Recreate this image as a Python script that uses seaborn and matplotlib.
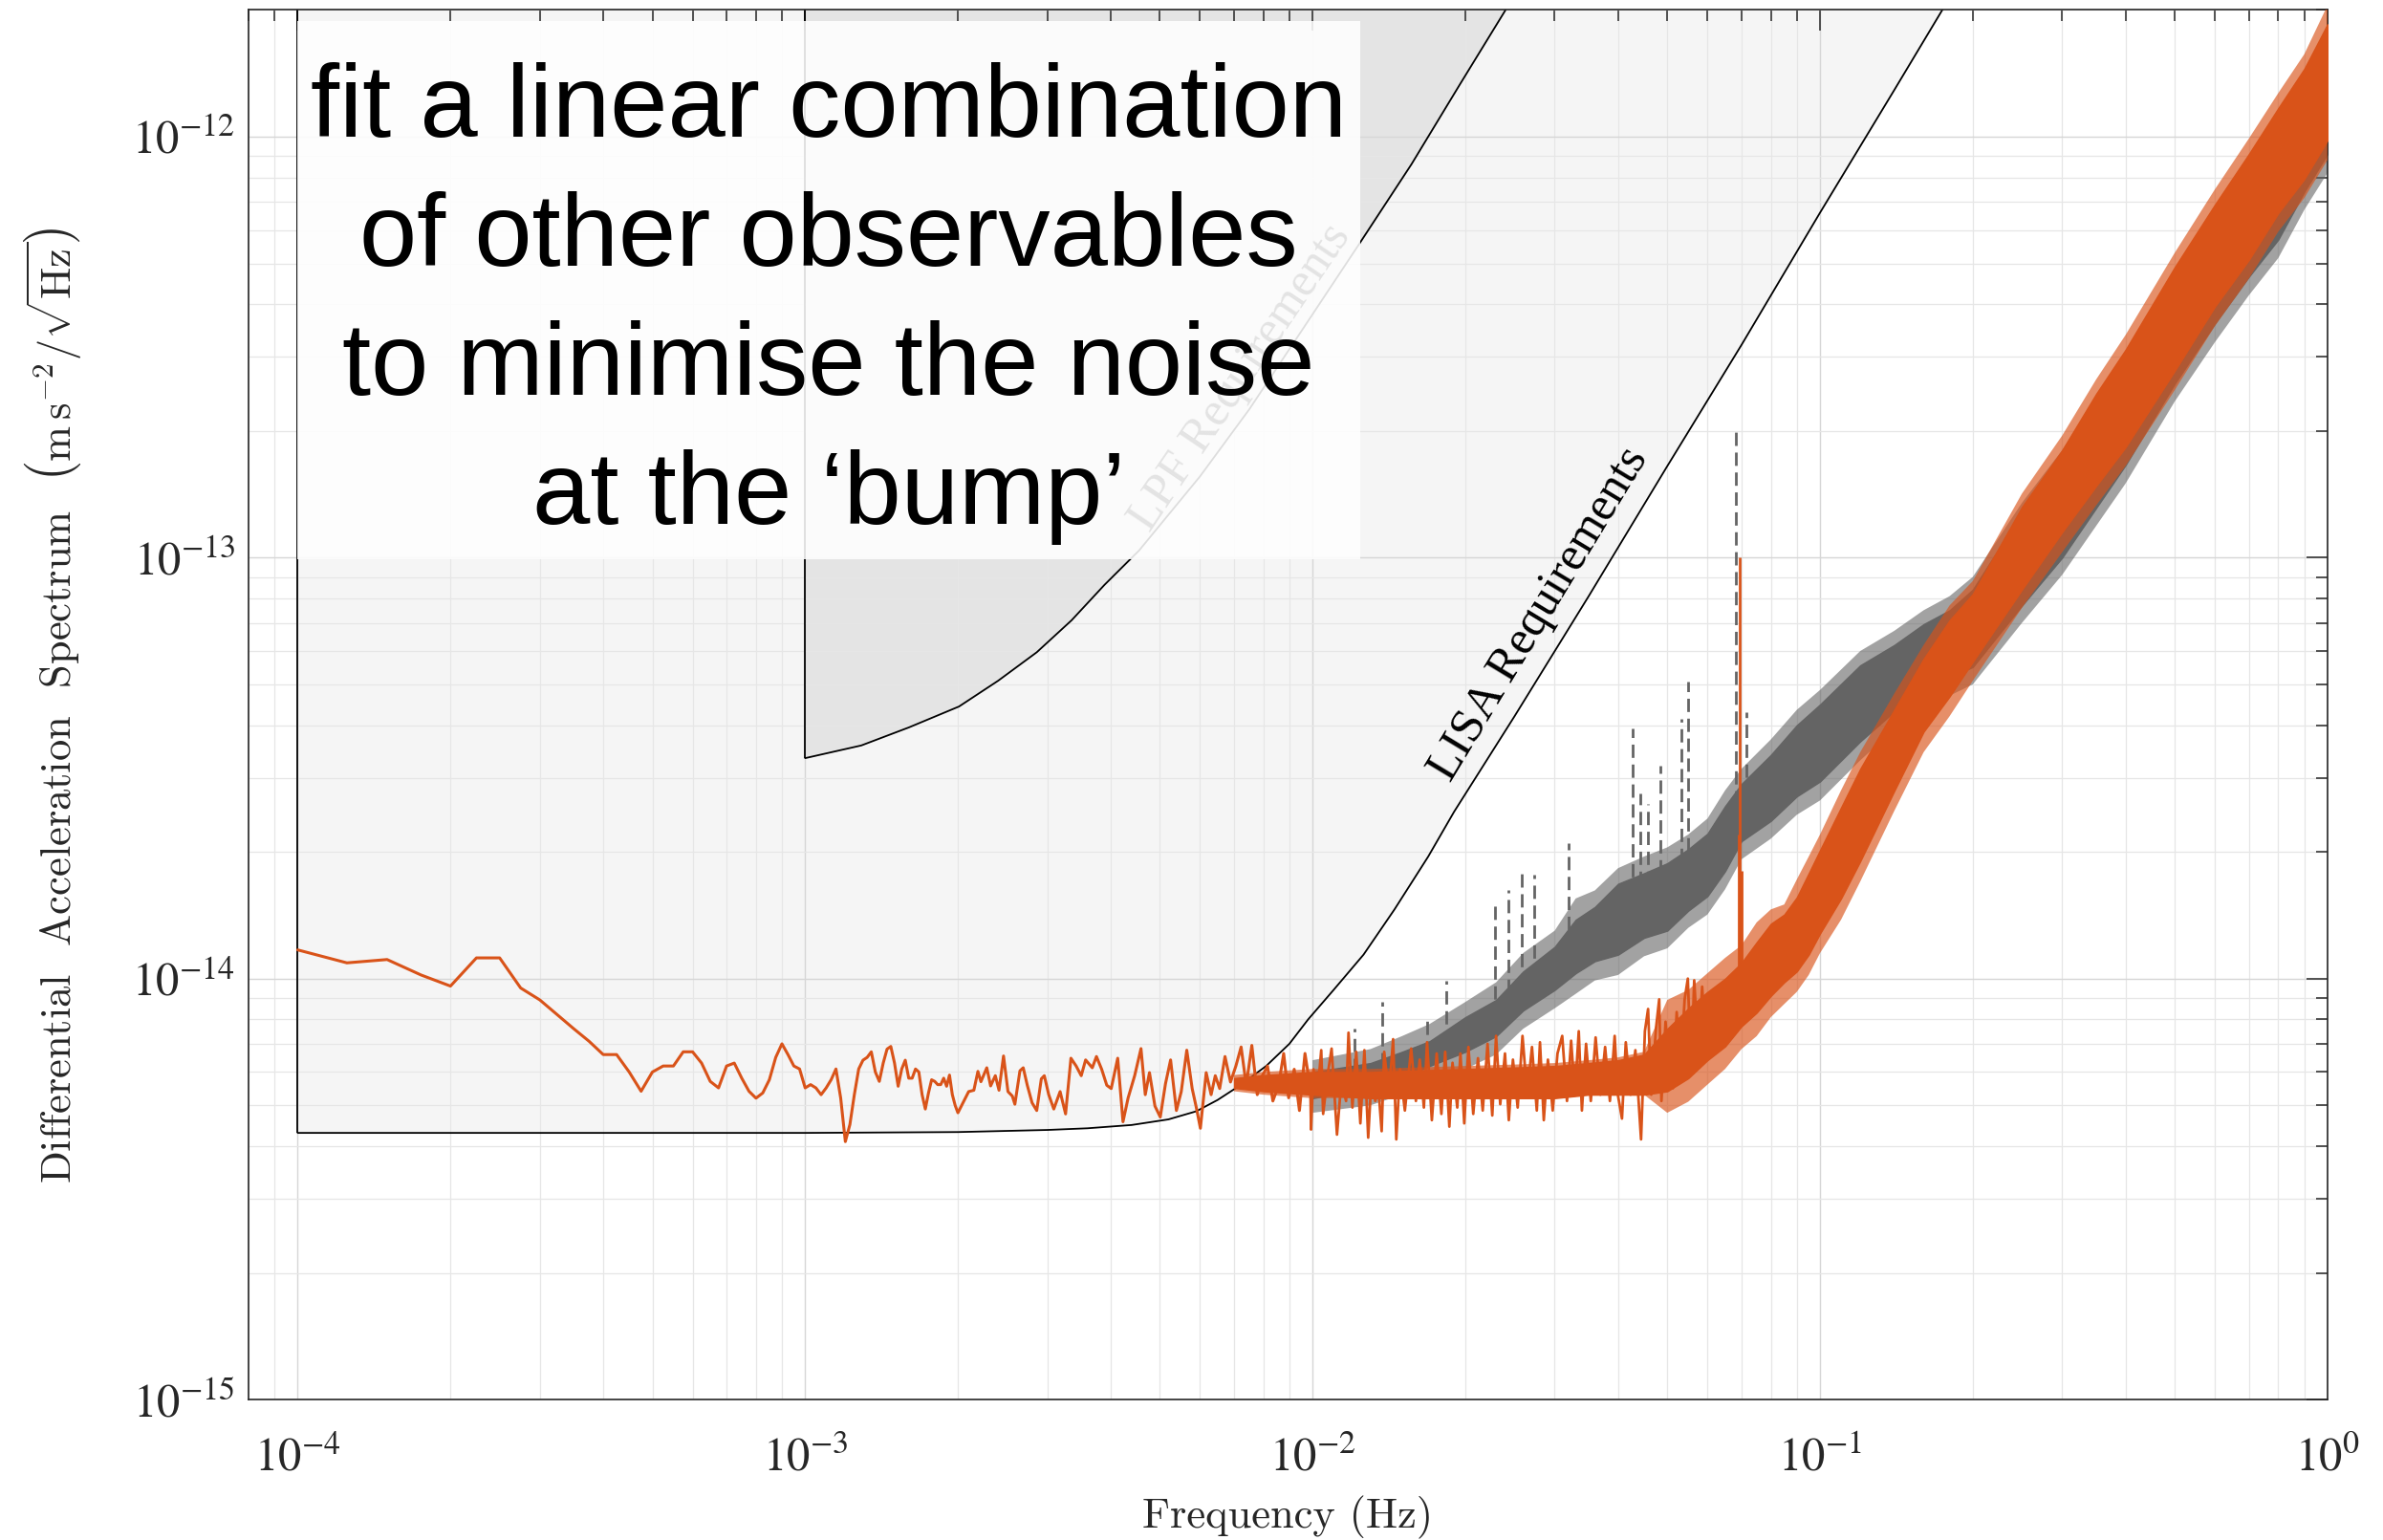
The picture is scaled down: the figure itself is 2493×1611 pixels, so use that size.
import numpy as np
import pandas as pd
import seaborn as sns
import matplotlib.pyplot as plt
from matplotlib.ticker import FixedLocator, LogLocator, NullFormatter
from matplotlib.patches import Rectangle

# ---- data (frequency in Hz, spectrum in m s^-2/sqrt(Hz)) ----
ORANGE = '#D95319'
GREY = '#646464'

# sparse low-frequency part of the orange spectrum (values in 1e-15)
orange_low_f = np.arange(1.0, 20.01, 0.25) * 1e-4
orange_low_v = np.array([
    11.7, 10.9, 11.1, 10.2, 9.6, 11.2, 11.2, 9.5, 8.9, 8.2,
    7.6, 7.1, 6.6, 6.6, 6.0, 5.4, 6.0, 6.2, 6.2, 6.7,
    6.7, 6.3, 5.7, 5.5, 6.2, 6.3, 5.8, 5.4, 5.2, 5.35,
    5.75, 6.5, 7.0, 6.6, 6.2, 6.1, 5.5, 5.6, 5.5, 5.3,
    5.5, 5.75, 6.1, 5.2, 4.1, 4.5, 5.3, 6.1, 6.4, 6.5,
    6.7, 6.0, 5.7, 6.3, 6.8, 6.9, 6.3, 5.55, 6.1, 6.4,
    5.8, 5.8, 6.1, 6.0, 5.3, 4.9, 5.35, 5.75, 5.7, 5.6,
    5.6, 5.8, 5.55, 5.9, 5.3, 5.0, 4.8]) * 1e-15

# noisy mid part of the orange spectrum (f in 1e-3, values in 1e-15)
orange_mid_f = np.array([
    2.10, 2.15, 2.19, 2.22, 2.28, 2.32, 2.37, 2.41, 2.46, 2.51,
    2.56, 2.59, 2.65, 2.69, 2.74, 2.80, 2.86, 2.92, 2.96, 3.02,
    3.09, 3.18, 3.26, 3.34, 3.42, 3.50, 3.57, 3.68, 3.75, 3.84,
    3.93, 4.01, 4.13, 4.23, 4.33, 4.46, 4.59, 4.68, 4.77, 4.89,
    5.01, 5.13, 5.25, 5.39, 5.51, 5.65, 5.79, 5.90, 6.01, 6.17,
    6.31, 6.43, 6.56, 6.72, 6.89, 7.06, 7.23, 7.40, 7.59, 7.78,
    7.96, 8.15, 8.35, 8.57, 8.77, 8.97, 9.20, 9.42, 9.66, 9.90]) * 1e-3
orange_mid_v = np.array([
    5.39, 5.43, 6.02, 5.69, 6.14, 5.56, 5.88, 5.43, 6.55, 5.39,
    5.26, 5.03, 6.04, 6.14, 5.58, 5.07, 4.86, 5.78, 5.88, 5.30,
    4.90, 5.39, 4.77, 6.47, 6.20, 5.88, 6.41, 6.14, 6.53, 6.09,
    5.58, 5.48, 6.47, 4.57, 5.21, 5.88, 6.82, 5.30, 5.98, 4.98,
    4.69, 5.63, 6.41, 4.86, 5.39, 6.76, 5.48, 4.94, 4.41, 5.98,
    5.30, 5.88, 5.48, 6.53, 5.68, 6.20, 6.88, 5.58, 6.94, 5.30,
    5.88, 6.20, 5.12, 5.58, 6.64, 5.21, 6.09, 4.86, 6.64, 5.48]) * 1e-15

# noisy orange spectrum between 10 and 60 mHz: peaks and troughs (values in 1e-15)
orange_hf_f = np.array([
    0.00993, 0.01004, 0.01022, 0.01040, 0.01049, 0.01070, 0.01090, 0.01117, 0.01139, 0.01164,
    0.01177, 0.01198, 0.01219, 0.01242, 0.01265, 0.01287, 0.01306, 0.01329, 0.01348, 0.01368,
    0.01384, 0.01414, 0.01441, 0.01462, 0.01487, 0.01520, 0.01564, 0.01598, 0.01626, 0.01657,
    0.01681, 0.01718, 0.01756, 0.01794, 0.01825, 0.01860, 0.01887, 0.01928, 0.01956, 0.01990,
    0.02028, 0.02073, 0.02118, 0.02164, 0.02212, 0.02260, 0.02299, 0.02343, 0.02394, 0.02436,
    0.02482, 0.02536, 0.02592, 0.02648, 0.02706, 0.02766, 0.02806, 0.02855, 0.02909, 0.02973,
    0.03038, 0.03104, 0.03172, 0.03232, 0.03288, 0.03346, 0.03394, 0.03459, 0.03534, 0.03612,
    0.03691, 0.03771, 0.03854, 0.03938, 0.03995, 0.04071, 0.04142, 0.04233, 0.04326, 0.04439,
    0.04517, 0.04583, 0.04649, 0.04751, 0.04820, 0.04869, 0.04961, 0.05055, 0.05129, 0.05218,
    0.05310, 0.05410, 0.05489, 0.05569, 0.05650, 0.05757, 0.05857, 0.05942])
orange_hf_v = np.array([
    4.38, 6.09, 5.30, 6.76, 4.77, 5.88, 6.82, 4.26, 5.68, 5.12,
    7.44, 4.94, 6.70, 4.53, 6.76, 4.19, 5.78, 5.12, 5.49, 4.34,
    6.70, 5.30, 7.18, 4.15, 6.09, 4.86, 6.82, 5.12, 6.42, 4.94,
    7.06, 4.61, 6.64, 4.77, 6.70, 4.45, 6.31, 4.94, 6.64, 4.53,
    6.88, 4.77, 6.47, 4.86, 7.00, 4.73, 7.31, 5.03, 6.64, 4.61,
    6.42, 4.94, 7.31, 5.30, 6.88, 4.86, 7.06, 4.61, 6.42, 4.86,
    6.64, 7.31, 5.12, 7.12, 5.30, 7.50, 4.86, 7.00, 5.12, 7.25,
    5.30, 6.88, 5.12, 7.31, 5.30, 4.65, 7.06, 5.30, 6.76, 4.15,
    7.50, 8.47, 5.30, 7.63, 8.93, 5.12, 7.90, 5.88, 5.49, 8.33,
    6.09, 8.93, 10.00, 5.98, 9.91, 6.64, 9.57, 7.25]) * 1e-15

# dense orange band: outer noise tips and dense core (values in 1e-15)
orange_band_f = np.array([
    0.007, 0.008, 0.010, 0.013, 0.016, 0.020, 0.025, 0.030, 0.035, 0.040,
    0.045, 0.050, 0.055, 0.060, 0.065, 0.070, 0.075, 0.080, 0.085, 0.090,
    0.095, 0.100, 0.110, 0.120, 0.140, 0.160, 0.180, 0.200, 0.250, 0.300,
    0.350, 0.400, 0.500, 0.600, 0.700, 0.800, 0.900, 1.000])
orange_tip_lo = np.array([
    5.4, 5.3, 5.2, 5.2, 5.2, 5.2, 5.2, 5.2, 5.3, 5.3,
    5.3, 4.8, 5.1, 5.6, 6.1, 6.8, 7.3, 8.1, 8.7, 9.3,
    10.2, 11.5, 13.8, 17.0, 25.0, 34.5, 42.0, 51.0, 76, 103,
    133, 165, 250, 355, 460, 595, 715, 880]) * 1e-15
orange_core_lo = np.array([
    5.5, 5.4, 5.3, 5.2, 5.2, 5.2, 5.2, 5.2, 5.3, 5.3,
    5.3, 5.4, 5.8, 6.4, 6.9, 7.7, 8.3, 9.1, 9.8, 10.4,
    11.4, 12.8, 15.5, 19.0, 27.9, 38.6, 46.8, 56.6, 84, 115,
    148, 183, 278, 395, 510, 659, 793, 980]) * 1e-15
orange_core_hi = np.array([
    5.8, 5.9, 6.0, 6.0, 6.05, 6.1, 6.15, 6.2, 6.3, 6.4,
    6.6, 7.6, 8.5, 9.3, 10.0, 10.9, 12.2, 13.5, 14.2, 15.6,
    17.8, 20.2, 25.5, 31.5, 43.5, 57.5, 71.0, 82.0, 132, 180,
    245, 312, 490, 690, 910, 1170, 1450, 1850]) * 1e-15
orange_tip_hi = np.array([
    5.9, 6.0, 6.1, 6.1, 6.15, 6.2, 6.25, 6.3, 6.4, 6.5,
    6.7, 8.9, 9.4, 10.3, 11.2, 12.0, 13.6, 14.6, 15.0, 17.2,
    19.5, 22.0, 28.0, 34.5, 47.5, 62.0, 77.0, 88.0, 142, 195,
    265, 338, 530, 750, 990, 1270, 1570, 2050]) * 1e-15

# grey spectrum band (values in 1e-15)
grey_band_f = np.array([
    0.010, 0.013, 0.015, 0.017, 0.020, 0.023, 0.026, 0.030, 0.033, 0.036,
    0.040, 0.045, 0.050, 0.055, 0.060, 0.065, 0.070, 0.080, 0.090, 0.100,
    0.120, 0.140, 0.160, 0.180, 0.200, 0.250, 0.300, 0.400, 0.500, 0.600,
    0.700, 0.800, 0.900, 1.000])
grey_tip_lo = np.array([
    4.8, 5.0, 5.3, 5.7, 6.1, 6.6, 7.6, 8.5, 9.2, 9.9,
    10.2, 11.3, 11.8, 13.2, 14.2, 16.3, 19.2, 21.5, 24.5, 26.5,
    33.0, 39.0, 43.5, 47.0, 50.0, 70, 91, 150, 235, 325,
    420, 515, 670, 820]) * 1e-15
grey_core_lo = np.array([
    5.2, 5.5, 5.8, 6.2, 6.7, 7.3, 8.4, 9.4, 10.3, 11.0,
    11.4, 12.5, 13.0, 14.5, 15.7, 18.0, 21.2, 23.7, 27.1, 29.4,
    36.6, 43.1, 48.2, 52.0, 55.0, 77, 100, 166, 259, 360,
    465, 570, 740, 910]) * 1e-15
grey_core_hi = np.array([
    6.0, 6.3, 6.7, 7.1, 8.1, 8.9, 10.4, 11.9, 13.8, 14.8,
    16.8, 17.8, 18.8, 20.3, 22.1, 25.7, 29.0, 34.0, 40.0, 44.8,
    55.5, 62.0, 69.5, 75.0, 84.0, 128, 172, 295, 460, 650,
    860, 1080, 1370, 1760]) * 1e-15
grey_tip_hi = np.array([
    6.4, 6.8, 7.3, 7.8, 8.8, 9.8, 11.5, 13.0, 15.5, 16.2,
    18.3, 19.5, 20.5, 22.0, 24.0, 28.0, 31.5, 37.0, 43.5, 48.5,
    60.0, 67.0, 75.0, 81.0, 90.0, 135, 180, 310, 480, 680,
    900, 1130, 1430, 1850]) * 1e-15

# spikes (line peaks)
grey_spike_f = [0.0121, 0.0137, 0.0168, 0.0183, 0.0229, 0.0243, 0.0258, 0.0273, 0.0319,
                0.0427, 0.0442, 0.0458, 0.0485, 0.0533, 0.0549, 0.0684, 0.0716]
grey_spike_base = np.array([6.0, 6.2, 6.6, 7.0, 8.0, 8.3, 8.6, 9.0, 10.5,
                            14.0, 15.0, 15.0, 16.0, 17.0, 18.0, 26.0, 27.0]) * 1e-15
grey_spike_top = np.array([7.6, 8.8, 8.0, 9.9, 15.0, 16.2, 17.9, 17.7, 21.0,
                           39.2, 27.5, 26.0, 32.0, 41.4, 50.8, 200, 43.0]) * 1e-15
orange_spike_f = [0.0690, 0.0695, 0.0702]
orange_spike_base = np.array([9.0, 10.0, 9.0]) * 1e-15
orange_spike_top = np.array([22.0, 100.0, 18.0]) * 1e-15

# requirement curves
lisa_f = [1e-4, 1e-3, 2e-3, 3e-3, 3.6e-3, 4.4e-3, 5.2e-3, 5.9e-3, 6.5e-3, 7.2e-3, 8.1e-3,
          9.0e-3, 9.8e-3, 1.1e-2, 1.26e-2, 1.45e-2, 1.69e-2, 1.9e-2, 2.5e-2, 3.5e-2, 5e-2,
          7e-2, 0.1, 0.14, 0.175]
lisa_v = np.array([4.3, 4.3, 4.32, 4.37, 4.41, 4.49, 4.63, 4.84, 5.15, 5.58, 6.2,
                   7.0, 8.0, 9.4, 11.4, 14.6, 19.5, 24.9, 42, 81, 165,
                   320, 660, 1290, 2020]) * 1e-15
lpf_f = [1.0e-3, 1.29e-3, 1.6e-3, 2.01e-3, 2.4e-3, 2.86e-3, 3.35e-3, 3.89e-3, 4.55e-3,
         6e-3, 7.5e-3, 9.5e-3, 0.01228, 0.01566, 0.0195, 0.0240]
lpf_v = np.array([3.34, 3.58, 3.95, 4.43, 5.1, 5.96, 7.1, 8.62, 10.4,
                  15.6, 22.5, 34.5, 55, 86, 133, 200]) * 1e-14

x_ticks = [1e-4, 1e-3, 1e-2, 1e-1, 1e0]
x_tick_labels = [r'$10^{-4}$', r'$10^{-3}$', r'$10^{-2}$', r'$10^{-1}$', r'$10^{0}$']
y_ticks = [1e-15, 1e-14, 1e-13, 1e-12]
y_tick_labels = [r'$10^{-15}$', r'$10^{-14}$', r'$10^{-13}$', r'$10^{-12}$']
y_max = 2e-12

box_lines = ['fit a linear combination', 'of other observables',
             'to minimise the noise', 'at the \u2018bump\u2019']

# ---- style ----
sns.set_style('white')
plt.rcParams['font.family'] = ['Liberation Serif', 'DejaVu Serif']
plt.rcParams['mathtext.fontset'] = 'stix'

fig = plt.figure(figsize=(24.93, 16.11), dpi=100)
ax = fig.add_axes([0.1043, 0.0912, 0.8724, 0.9023])
ax.set_xscale('log')
ax.set_yscale('log')

# requirement regions
ax.fill_between(lisa_f, lisa_v, y_max, color='#f5f5f5', lw=0, zorder=0.2)
ax.fill_between(lpf_f, lpf_v, y_max, color='#e4e4e4', lw=0, zorder=0.25)
sns.lineplot(x=lisa_f, y=lisa_v, ax=ax, color='black', lw=1.3,
             estimator=None, sort=False, zorder=1)
sns.lineplot(x=lpf_f, y=lpf_v, ax=ax, color='black', lw=1.3,
             estimator=None, sort=False, zorder=1)
ax.vlines(lisa_f[0], lisa_v[0], y_max, color='black', lw=1.3, zorder=1)
ax.vlines(lpf_f[0], lpf_v[0], y_max, color='black', lw=1.3, zorder=1)

ax.text(0.0280, 7.35e-14, 'LISA Requirements', rotation=58.8, rotation_mode='anchor',
        ha='center', va='center', fontsize=36, color='black', zorder=1.5)
ax.text(7.2e-3, 2.67e-13, 'LPF Requirements', rotation=56, rotation_mode='anchor',
        ha='center', va='center', fontsize=36, color='#303030', zorder=1.5)

# grey spectrum
ax.fill_between(grey_band_f, grey_tip_lo, grey_tip_hi, facecolor=GREY,
                edgecolor='none', alpha=0.6, zorder=2)
ax.fill_between(grey_band_f, grey_core_lo, grey_core_hi, facecolor=GREY,
                edgecolor=GREY, lw=1.0, zorder=2.1)
ax.vlines(grey_spike_f, grey_spike_base, grey_spike_top, color=GREY, lw=2.0,
          linestyles=(0, (5, 2.5)), zorder=2.2)

# orange spectrum
orange_df = pd.DataFrame({'f': np.r_[orange_low_f, orange_mid_f],
                          'v': np.r_[orange_low_v, orange_mid_v]})
sns.lineplot(data=orange_df, x='f', y='v', ax=ax, color=ORANGE, lw=2.2,
             estimator=None, sort=False, zorder=4)
ax.fill_between(orange_band_f, orange_tip_lo, orange_tip_hi, facecolor=ORANGE,
                edgecolor='none', alpha=0.65, zorder=3.9)
ax.fill_between(orange_band_f, orange_core_lo, orange_core_hi, facecolor=ORANGE,
                edgecolor=ORANGE, lw=1.0, zorder=4)
hf_df = pd.DataFrame({'f': np.r_[orange_mid_f[-1:], orange_hf_f],
                      'v': np.r_[orange_mid_v[-1:], orange_hf_v]})
sns.lineplot(data=hf_df, x='f', y='v', ax=ax, color=ORANGE, lw=2.0,
             estimator=None, sort=False, zorder=4.1)
ax.vlines(orange_spike_f, orange_spike_base, orange_spike_top, color=ORANGE,
          lw=2.0, zorder=4)

# text box overlay
ax.add_patch(Rectangle((0.02345, 0.6048), 0.5115, 0.3875, transform=ax.transAxes,
                       facecolor='white', edgecolor='none', alpha=0.87, zorder=5))
for i, line in enumerate(box_lines):
    ax.text(0.2791, 0.9088 - i * 0.0929, line, transform=ax.transAxes,
            ha='center', va='baseline', fontsize=78, family='Liberation Sans',
            color='black', zorder=6)

# axes
ax.set_xlim(8e-5, 1)
ax.set_ylim(1e-15, y_max)
ax.xaxis.set_major_locator(FixedLocator(x_ticks))
ax.set_xticklabels(x_tick_labels)
ax.yaxis.set_major_locator(FixedLocator(y_ticks))
ax.set_yticklabels(y_tick_labels)
for axis in (ax.xaxis, ax.yaxis):
    axis.set_minor_locator(LogLocator(base=10, subs=np.arange(2, 10), numticks=30))
    axis.set_minor_formatter(NullFormatter())

ax.set_axisbelow(True)
ax.grid(True, which='major', color='#d6d6d6', lw=1.0)
ax.grid(True, which='minor', color='#e6e6e6', lw=0.9)
ax.tick_params(which='both', direction='in', top=True, right=True,
               color='#262626', width=1.1)
ax.tick_params(which='major', length=16, labelsize=35)
ax.tick_params(which='minor', length=8.5)
ax.tick_params(axis='x', which='major', pad=28)
ax.tick_params(axis='y', which='major', pad=10)
for sp in ax.spines.values():
    sp.set_color('#262626')
    sp.set_linewidth(1.2)

ax.set_xlabel('Frequency (Hz)', fontsize=32, family='cmr10')
ax.set_ylabel('Differential  Acceleration  Spectrum  '
              r'$\left(\mathrm{m\,s^{-2}/\sqrt{Hz}}\right)$',
              fontsize=32, family='cmr10', math_fontfamily='cm')
ax.xaxis.set_label_coords(0.5, -0.0695)
ax.yaxis.set_label_coords(-0.0795, 0.5)

plt.savefig('out.png', dpi=100)
